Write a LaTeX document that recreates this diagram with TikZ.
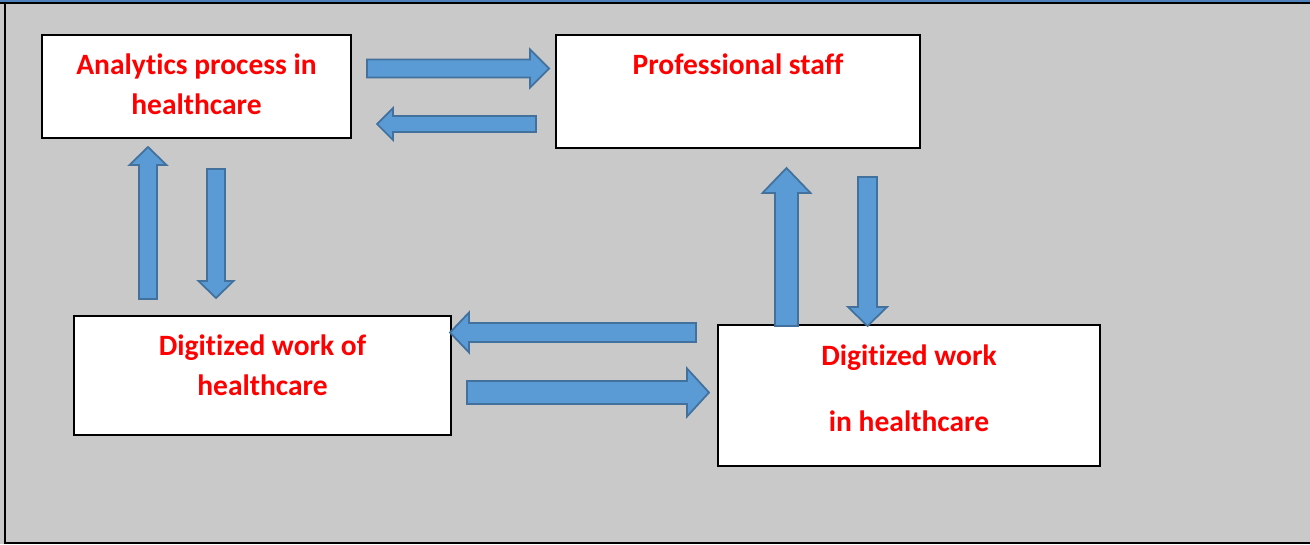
\documentclass[tikz,border=0pt]{standalone}
\usepackage{fontspec}
\setmainfont{Carlito}[Ligatures=NoCommon]
\usepackage{tikz}
\usetikzlibrary{calc, positioning}
\definecolor{pgBack}{HTML}{C9C9C9}
\definecolor{pgTop}{HTML}{4F81BD}
\definecolor{arBlue}{HTML}{5B9BD5}
\definecolor{arEdge}{HTML}{41719C}
\definecolor{txRed}{HTML}{FF0000}
\tikzset{
  stagebox/.style={draw=black, fill=white, line width=0.8pt, align=center,
    inner sep=0pt, text=txRed,
    font=\fontsize{16.8}{22.8}\selectfont\bfseries},
  blockarrow/.style={draw=arEdge, fill=arBlue, line width=1pt, line join=miter},
}
% block arrow: from, to, half shaft, half head, head length (in px)
\newcommand\blockarrow[5]{%
  \pgfmathsetlengthmacro\baS{#3*0.02cm}%
  \pgfmathsetlengthmacro\baH{#4*0.02cm}%
  \pgfmathsetlengthmacro\baL{#5*0.02cm}%
  \coordinate (#2b) at ($(#2)!\baL!(#1)$);
  \path[blockarrow] ($(#1)!\baS!90:(#2)$) -- ($(#2b)!\baS!90:(#2)$)
    -- ($(#2b)!\baH!90:(#2)$) -- (#2) -- ($(#2b)!\baH!-90:(#2)$)
    -- ($(#2b)!\baS!-90:(#2)$) -- ($(#1)!\baS!-90:(#2)$) -- cycle;
}
\begin{document}
\begin{tikzpicture}[x=0.02cm, y=-0.02cm]
  \useasboundingbox (0,0) rectangle (1310,544);
  % tło i ramka
  \fill[pgBack] (0,0) rectangle (1310,544);
  \fill[pgTop] (0,0) rectangle (1310,2);
  \fill[black] (0,2) rectangle (1310,3.8);
  \fill[black] (4,2) rectangle (6,544);
  \fill[black] (4,541.6) rectangle (1310,544);
  % bloki
  \node[stagebox, minimum width=6.18cm, minimum height=2.06cm, text depth=3pt]
    (analytics) at (196.5,86.5) {Analytics process in\\healthcare};
  \node[stagebox, minimum width=7.28cm, minimum height=2.26cm, text depth=31pt]
    (staff) at (738,91.5) {Professional staff};
  \node[stagebox, minimum width=7.54cm, minimum height=2.38cm, text depth=12pt]
    (digiof) at (262.5,375.5) {Digitized work of\\healthcare};
  \node[stagebox, minimum width=7.64cm, minimum height=2.82cm, text depth=8.5pt]
    (digiin) at (909,395.5) {Digitized work\\[15pt]in healthcare};
  % końce strzałek
  \coordinate (a1s) at (367,68.5);   \coordinate (a1e) at (549,68.5);
  \coordinate (a2s) at (536,124);    \coordinate (a2e) at (377,124);
  \coordinate (a3s) at (148,299);    \coordinate (a3e) at (148,147);
  \coordinate (a4s) at (216,169);    \coordinate (a4e) at (216,298);
  \coordinate (a5s) at (786.5,326);  \coordinate (a5e) at (786.5,168);
  \coordinate (a6s) at (867.5,177);  \coordinate (a6e) at (867.5,326);
  \coordinate (a7s) at (696,332.5);  \coordinate (a7e) at (450,332.5);
  \coordinate (a8s) at (467,392.5);  \coordinate (a8e) at (709,392.5);
  % strzałki blokowe
  \blockarrow{a1s}{a1e}{9}{19}{19}
  \blockarrow{a2s}{a2e}{8}{16}{16}
  \blockarrow{a3s}{a3e}{9}{18.5}{18}
  \blockarrow{a4s}{a4e}{9}{17.5}{17}
  \blockarrow{a5s}{a5e}{11.5}{24}{25}
  \blockarrow{a6s}{a6e}{9.5}{19.5}{19}
  \blockarrow{a7s}{a7e}{9.5}{20}{19}
  \blockarrow{a8s}{a8e}{11.5}{24}{22}
\end{tikzpicture}
\end{document}
